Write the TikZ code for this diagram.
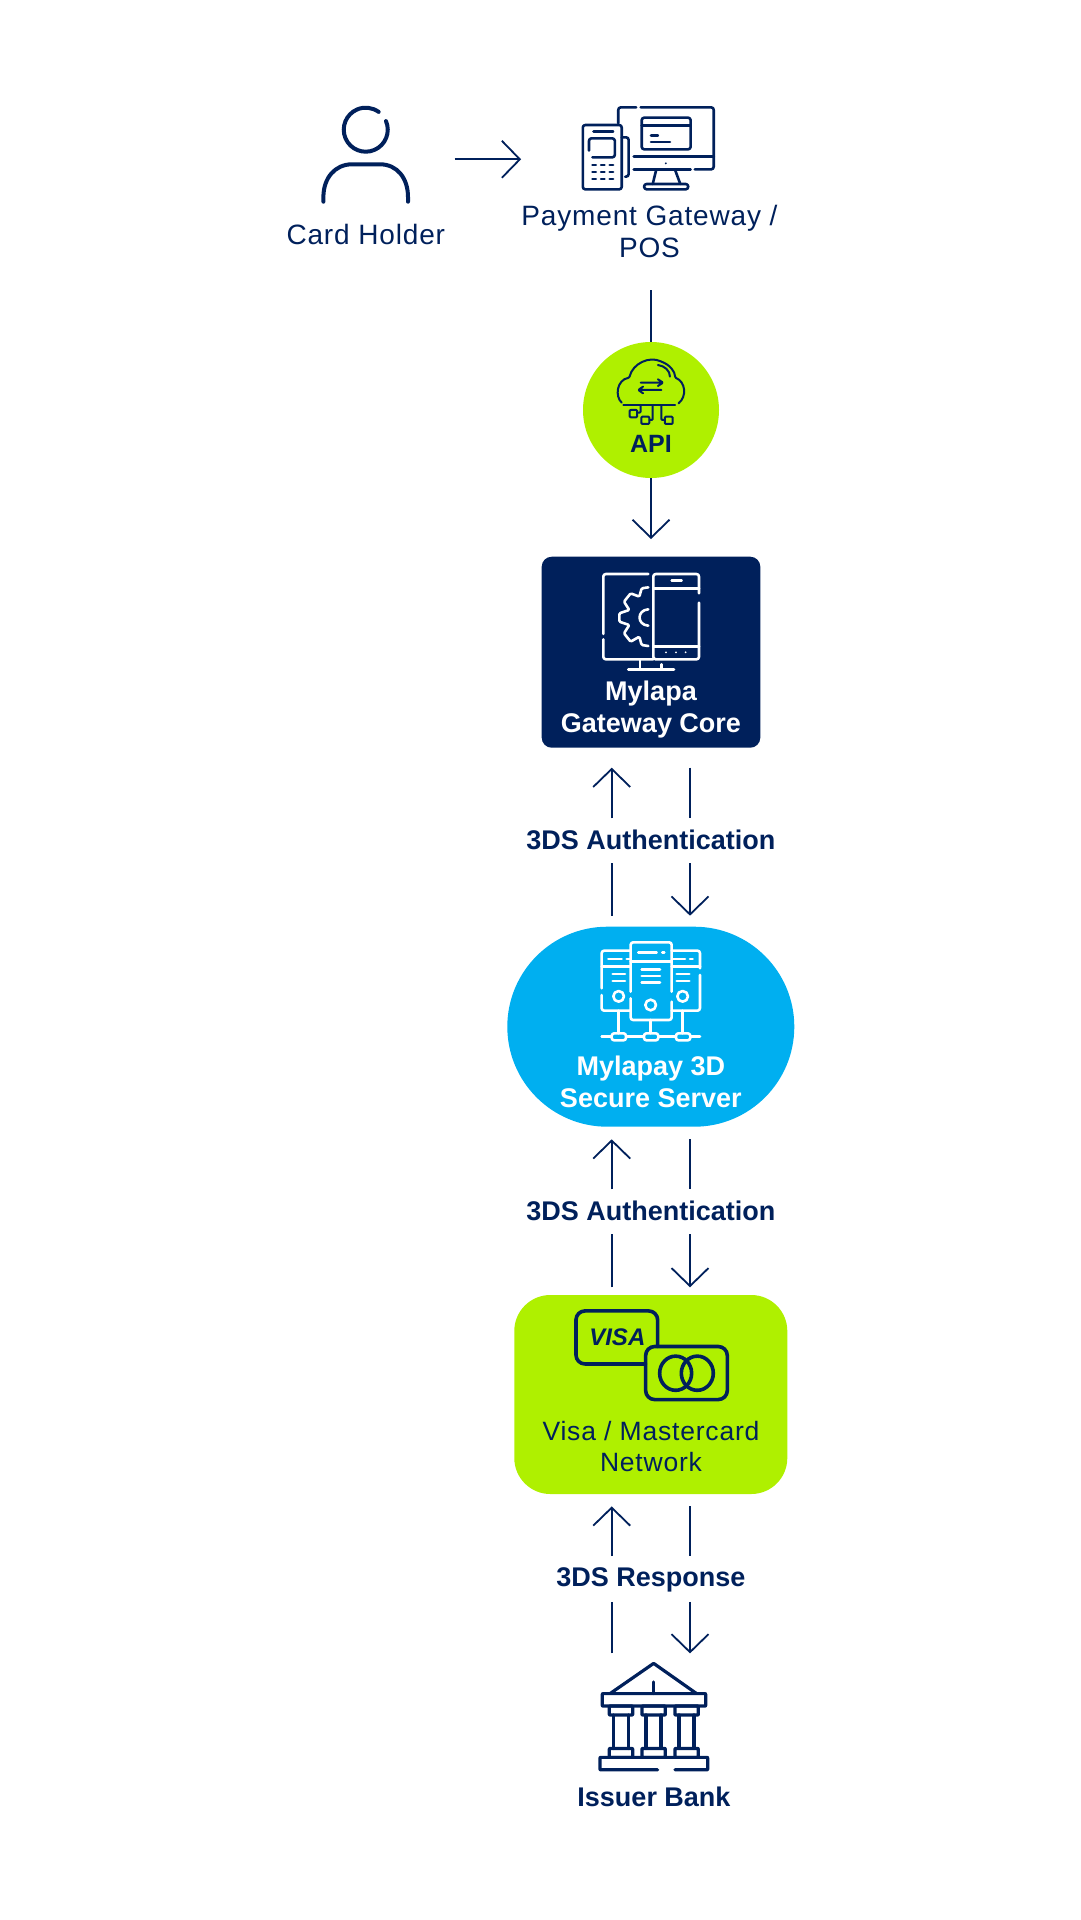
\documentclass[tikz,border=0pt]{standalone}
\usepackage{fontspec}
\setmainfont{Liberation Sans}
\newfontfamily\spacedfont[LetterSpace=3]{Liberation Sans}
\usetikzlibrary{arrows.meta,shapes.misc}
\definecolor{navy}{HTML}{00205B}
\definecolor{lime}{HTML}{AFF000}
\definecolor{sky}{HTML}{00AFF0}
\tikzset{
  flow/.style={draw=navy, line width=1.8pt, -{Straight Barb[length=18pt,width=37pt,line width=1.8pt]}},
  flowline/.style={draw=navy, line width=1.8pt},
  plaintext/.style={inner sep=0pt, align=center, text=navy, font=\fontsize{28}{32}\selectfont\spacedfont},
  boldtext/.style={inner sep=0pt, align=center, text=navy, font=\fontsize{27}{31.5}\selectfont\bfseries},
  whitetext/.style={boldtext, text=white},
  icon/.style={line width=2.6pt, line cap=round, line join=round, rounded corners=2.5pt},
  topzoom/.style={shift={(260,80)}, x=.3445pt, y=-.3333pt},
  corezoom/.style={shift={(480,530)}, x=.3333pt, y=-.3333pt},
  serverzoom/.style={shift={(480,900)}, x=.3333pt, y=-.3333pt},
  bottomzoom/.style={shift={(480,1260)}, x=.3333pt, y=-.356pt}
}
\begin{document}
\begin{tikzpicture}[x=1pt, y=-1pt]
  \useasboundingbox (0,0) rectangle (1081,1920);

  % boxes
  \node (api) [circle, fill=lime, inner sep=0pt, minimum size=136pt] at (651,410) {};
  \node (core) [rectangle, rounded corners=10pt, fill=navy, inner sep=0pt, minimum width=218.6pt, minimum height=191pt] at (651,652.2) {};
  \node (server) [rounded rectangle, fill=sky, inner sep=0pt, minimum width=287pt, minimum height=200pt] at (650.8,1026.7) {};
  \node (network) [rectangle, rounded corners=36pt, fill=lime, inner sep=0pt, minimum width=273pt, minimum height=199pt] at (650.8,1394.5) {};

  % texts
  \node (holdertext) [plaintext] at (365.8,234) {Card Holder};
  \node (gatewaytext) [plaintext] at (649.5,231.5) {Payment Gateway /\\POS};
  \node (apitext) [boldtext, font=\fontsize{25}{30}\selectfont\bfseries] at (651,444.3) {API};
  \node (coretext) [whitetext] at (651,709.5) {Mylapa\\Gateway Core};
  \node (servertext) [whitetext] at (650.8,1082) {Mylapay 3D\\Secure Server};
  \node (networktext) [plaintext, font=\fontsize{26.5}{31.5}\selectfont\spacedfont] at (651,1446.5) {Visa / Mastercard\\Network};
  \node (authupper) [boldtext] at (650.8,840) {3DS Authentication};
  \node (authlower) [boldtext] at (650.8,1211) {3DS Authentication};
  \node (responsetext) [boldtext] at (651,1580) {3DS Response};
  \node (banktext) [boldtext] at (654,1796.5) {Issuer Bank};

  % connectors
  \coordinate (holderout) at (454.6,159.3);
  \coordinate (gatewayin) at (521.1,159.3);
  \coordinate (gatewayout) at (651,290);
  \coordinate (corein) at (651,539);
  \draw[flow] (holderout) -- (gatewayin);
  \draw[flowline] (gatewayout) -- (api.north);
  \draw[flow] (api.south) -- (corein);
  \foreach \lnk/\ytop/\ymidtop/\ymidbot/\ybot in {upper/767.7/818.3/863.3/915.7, lower/1139.3/1189.3/1234.3/1287.3, bank/1506.4/1556.2/1601.8/1653.4}{
    \coordinate (\lnk upa) at (611.7,\ytop);
    \coordinate (\lnk upb) at (611.7,\ymidtop);
    \coordinate (\lnk upc) at (611.7,\ymidbot);
    \coordinate (\lnk upd) at (611.7,\ybot);
    \coordinate (\lnk downa) at (690,\ytop);
    \coordinate (\lnk downb) at (690,\ymidtop);
    \coordinate (\lnk downc) at (690,\ymidbot);
    \coordinate (\lnk downd) at (690,\ybot);
    \draw[flow] (\lnk upb) -- (\lnk upa);
    \draw[flowline] (\lnk upd) -- (\lnk upc);
    \draw[flowline] (\lnk downa) -- (\lnk downb);
    \draw[flow] (\lnk downc) -- (\lnk downd);
  }

  % card holder
  \draw[navy, line width=4pt, line cap=round] (386,121.1) arc[start angle=-23, end angle=306, radius=22];
  \draw[navy, line width=4pt, line cap=round] (323.4,201.7) -- (323.4,197) .. controls (323.4,178) and (335,164.3) .. (352,164.3) -- (380,164.3) .. controls (397,164.3) and (408,178) .. (408,197) -- (408,201.7);

  % payment terminal and monitor
  \begin{scope}[topzoom, navy, icon]
    \draw (1040,130) -- (1040,82) -- (1092,82);
    \draw (1105,82) -- (1317,82) -- (1317,268) -- (1262,268);
    \draw (1250,268) -- (1085,268);
    \draw (1085,230) -- (1317,230);
    \draw (1108,113) rectangle (1250,208);
    \draw (1108,137) -- (1250,137);
    \draw (1135,166) -- (1155,166);
    \draw (1135,186) -- (1190,186);
    \fill (1178,250) circle (3);
    \draw (1150,270) -- (1140,312);
    \draw (1205,270) -- (1220,312);
    \draw (1115,312) rectangle (1243,328);
    \draw (1050,150) -- (1050,135) -- (937,135) -- (937,328) -- (1050,328) -- (1050,150);
    \draw (968,155) -- (1025,155);
    \draw (955,212) -- (955,175) -- (1030,175) -- (1030,232) -- (965,232);
    \draw (1050,172) -- (1070,172) -- (1070,290) -- (1060,290);
    \foreach \ky in {255,276,297}
      \foreach \kx in {965,990,1015}
        \draw (\kx,\ky) -- ++(10,0);
  \end{scope}

  % cloud
  \begin{scope}[topzoom, navy, icon, line width=2pt, rounded corners=1pt]
    \draw (1050,968) .. controls (1030,950) and (1035,900) .. (1072,893) .. controls (1082,850) and (1130,828) .. (1165,845) .. controls (1190,855) and (1205,875) .. (1205,893) .. controls (1235,905) and (1240,950) .. (1215,970);
    \draw (1055,975) -- (1205,975);
    \draw (1155,855) .. controls (1175,858) and (1190,872) .. (1190,890);
    \draw (1105,908) -- (1168,908) (1155,898) -- (1170,908) -- (1155,918);
    \draw (1100,930) -- (1165,930) (1112,920) -- (1098,930) -- (1112,940);
    \draw (1073,990) rectangle (1095,1012);
    \draw (1107,1010) rectangle (1130,1032);
    \draw (1175,1010) rectangle (1198,1032);
    \draw (1105,978) -- (1105,998) -- (1095,998);
    \draw (1140,978) -- (1140,1020) -- (1130,1020);
    \draw (1165,978) -- (1165,1020) -- (1175,1020);
  \end{scope}

  % gear and phone
  \begin{scope}[corezoom, white, icon]
    \draw (505,132) -- (370,132) -- (370,312);
    \draw (370,328) -- (370,388) -- (520,388);
    \draw (480,388) -- (480,418);
    \draw (545,403) -- (545,418);
    \draw (445,418) -- (582,418);
    \draw (657,190) -- (657,132) -- (520,132) -- (520,388) -- (657,388) -- (657,218);
    \draw (520,175) -- (657,175);
    \draw (520,350) -- (657,350);
    \draw (575,152) -- (605,152);
    \foreach \dotx in {558,588,617}
      \fill (\dotx,367) circle (3);
    \draw (505,238) .. controls (470,240) and (470,285) .. (505,287);
    \draw[rounded corners=1.2pt] (505,172) -- (485,175) -- (478,200) -- (452,190) -- (432,215) -- (448,240) -- (418,250) -- (418,275) -- (448,285) -- (432,310) -- (452,335) -- (478,320) -- (485,345) -- (505,348);
  \end{scope}

  % servers
  \begin{scope}[serverzoom, white, icon]
    \draw (452,275) -- (452,127) -- (575,127) -- (575,275);
    \draw (452,295) -- (452,360) -- (575,360) -- (575,305);
    \draw (452,185) -- (575,185);
    \draw (475,157) -- (530,157);
    \draw (547,157) -- (553,157);
    \foreach \ly in {208,228,248}
      \draw (485,\ly) -- (540,\ly);
    \draw (512,315) circle (16);
    \draw (450,152) -- (365,152) -- (365,265);
    \draw (365,285) -- (365,332) -- (450,332);
    \draw (365,200) -- (450,200);
    \draw (385,177) -- (425,177);
    \draw (440,177) -- (450,177);
    \foreach \ly in {222,243}{
      \draw (398,\ly) -- (435,\ly);
      \draw (590,\ly) -- (628,\ly);
    }
    \draw (416,289) circle (16);
    \draw (575,152) -- (660,152) -- (660,205);
    \draw (660,225) -- (660,332) -- (575,332);
    \draw (575,200) -- (660,200);
    \draw (580,177) -- (615,177);
    \draw (630,177) -- (638,177);
    \draw (608,289) circle (16);
    \draw (365,410) -- (660,410);
    \foreach \bx in {395,492,588}
      \draw[fill=sky] (\bx,400) rectangle ++(43,21);
    \draw (416,332) -- (416,400);
    \draw (512,360) -- (512,400);
    \draw (608,332) -- (608,400);
  \end{scope}

  % cards
  \begin{scope}[bottomzoom, navy, icon, line width=3.6pt, rounded corners=9pt]
    \draw (497,292) -- (288,292) -- (288,143) -- (533,143) -- (533,243);
    \draw (497,243) rectangle (742,392);
    \draw (587,318) circle (48);
    \draw (652,318) circle (48);
    \node (visamark) [inner sep=0pt, text=navy, font=\fontsize{24}{24}\selectfont\bfseries\itshape] at (412,218) {VISA};
  \end{scope}

  % bank
  \begin{scope}[bottomzoom, navy, icon, line width=3.2pt, rounded corners=.5pt]
    \draw (390,1218) -- (521,1133) -- (650,1218);
    \draw (521,1185) -- (521,1218);
    \draw (367,1218) rectangle (677,1253);
    \foreach \cx in {388,486,585}{
      \draw (\cx,1253) rectangle ++(70,25);
      \draw (\cx+12,1278) -- (\cx+12,1372);
      \draw (\cx+57,1278) -- (\cx+57,1372);
      \draw (\cx,1372) rectangle ++(70,25);
    }
    \draw (533,1432) -- (360,1432) -- (360,1397) -- (683,1397) -- (683,1432) -- (585,1432);
  \end{scope}
\end{tikzpicture}
\end{document}
